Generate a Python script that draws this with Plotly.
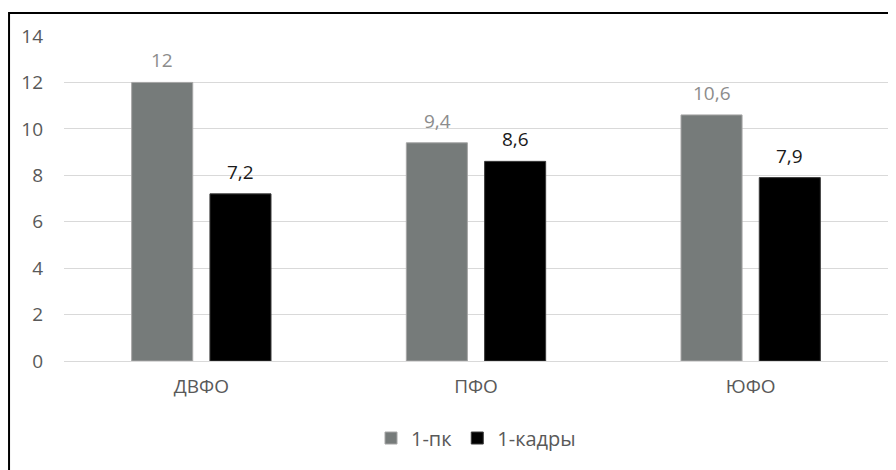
import plotly.graph_objects as go

categories = ["ДВФО", "ПФО", "ЮФО"]
series_names = ["1-пк", "1-кадры"]
values_pk = [12, 9.4, 10.6]
values_kadry = [7.2, 8.6, 7.9]
y_ticks = [0, 2, 4, 6, 8, 10, 12, 14]

GRAY = "#767B7A"
BLACK = "#000000"
FONT = "Open Sans, Noto Sans, sans-serif"

def fmt(v):
    return str(v).replace(".", ",")

fig = go.Figure()
fig.add_trace(go.Bar(name=series_names[0], x=categories, y=values_pk,
                     marker=dict(color=GRAY, line=dict(color="#A6A6A6", width=1))))
fig.add_trace(go.Bar(name=series_names[1], x=categories, y=values_kadry,
                     marker=dict(color=BLACK, line=dict(color="#3A3A3A", width=1))))

annotations = []
for c, v in zip(categories, values_pk):
    annotations.append(dict(x=c, y=v, xref="x", yref="y", text=fmt(v), showarrow=False,
                            xshift=-39, yshift=7, yanchor="bottom",
                            font=dict(family=FONT, size=19, color="#8C8C8C")))
for c, v in zip(categories, values_kadry):
    annotations.append(dict(x=c, y=v, xref="x", yref="y", text=fmt(v), showarrow=False,
                            xshift=39, yshift=7, yanchor="bottom",
                            font=dict(family=FONT, size=19, color="#1A1A1A")))

fig.update_layout(
    width=888, height=462,
    margin=dict(l=56, r=8, t=28, b=109),
    paper_bgcolor="white", plot_bgcolor="white",
    barmode="group", bargap=0.43, bargroupgap=0.22,
    font=dict(family=FONT, size=19, color="#595959"),
    separators=", ",
    xaxis=dict(showgrid=False, showline=True, linecolor="#D9D9D9", linewidth=1,
               ticks="", ticklabelstandoff=8, tickfont=dict(size=19, color="#595959")),
    yaxis=dict(range=[0, 14], tickvals=y_ticks, showgrid=True, gridcolor="#D9D9D9",
               gridwidth=1, zeroline=False, showline=False, ticks="",
               ticklabelstandoff=20,
               tickfont=dict(size=19, color="#595959")),
    legend=dict(orientation="h", x=0.5, xanchor="center", y=-0.237, yanchor="middle",
                font=dict(size=20, color="#595959"), itemwidth=30,
                traceorder="normal"),
    annotations=annotations,
    shapes=[dict(type="rect", xref="paper", yref="paper",
                 x0=-0.0667, x1=1.05, y0=-0.5, y1=1.0708,
                 line=dict(color="black", width=2), fillcolor="rgba(0,0,0,0)", layer="above")],
)

fig.write_html("out.html")
